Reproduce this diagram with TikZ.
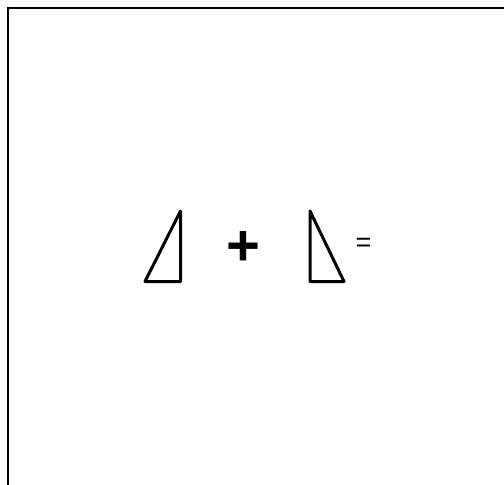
\documentclass[tikz,border=0pt]{standalone}
\usepackage{fontspec}
\setmainfont{Liberation Sans}
\usetikzlibrary{positioning}
\tikzset{
  wedge/.style={line width=3pt,line join=round},
  signtext/.style={inner sep=0pt,outer sep=0pt}
}

\begin{document}
\begin{tikzpicture}[x=1pt,y=-1pt]
  \useasboundingbox (0,0) rectangle (504,485);
  % open frame, cut off at the right and bottom
  \draw[line width=2pt] (8,486) -- (8,8) -- (505,8);
  % the two right triangles
  \draw[wedge] (180.5,211) -- (180.5,281.5) -- (145,281.5) -- cycle;
  \draw[wedge] (310,211) -- (310,281.5) -- (344,281.5) -- cycle;
  % signs
  \node[signtext,font=\bfseries\fontsize{58}{60}\selectfont] (plus) at (243.5,248.5) {+};
  \node[signtext,font=\fontsize{27}{30}\selectfont] (equals) at (363.5,244.5) {=};
\end{tikzpicture}
\end{document}
